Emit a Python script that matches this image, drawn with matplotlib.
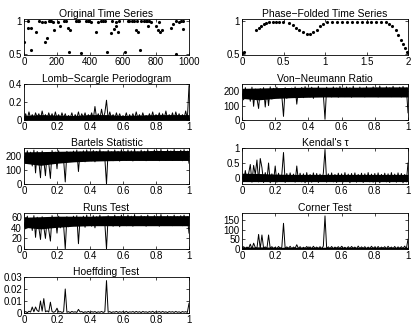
import numpy as np
import matplotlib
matplotlib.use('Agg')
import matplotlib.pyplot as plt
from matplotlib.ticker import FormatStrFormatter

plt.rcParams['font.family'] = ['Liberation Sans', 'DejaVu Sans']
plt.rcParams['font.size'] = 7

# seria originala (timp, magnitudine normalizata)
timp = [0, 26, 26, 45, 45, 71, 92, 112, 125, 128, 138, 152, 160, 166, 173,
        183, 209, 220, 244, 254, 264, 274, 280, 315, 325, 335, 345, 374, 386,
        396, 406, 437, 447, 467, 479, 490, 502, 528, 535, 543, 555, 559, 569,
        575, 610, 629, 639, 655, 668, 677, 682, 691, 705, 710, 726, 738, 747,
        752, 760, 770, 803, 813, 821, 827, 837, 888, 904, 919, 921, 941, 954,
        961, 966]
valori = [0.69, 1.0, 0.89, 0.89, 0.57, 0.84, 1.0, 0.99, 0.99, 0.68, 0.75,
          1.0, 1.0, 1.0, 0.99, 0.86, 0.99, 0.93, 1.0, 1.0, 0.90, 0.53, 0.86,
          1.0, 1.0, 1.0, 0.52, 1.0, 1.0, 1.0, 0.99, 0.83, 0.99, 1.0, 1.0, 1.0,
          0.54, 0.82, 1.0, 0.88, 0.92, 0.99, 0.83, 1.0, 0.54, 1.0, 1.0, 1.0,
          1.0, 0.86, 1.0, 0.83, 0.56, 1.0, 1.0, 1.0, 1.0, 0.92, 1.0, 0.99,
          0.93, 0.86, 0.99, 0.83, 0.86, 0.90, 0.96, 0.51, 1.0, 0.99, 1.0,
          0.88, 1.0]

# seria impaturita pe faza
faza = [0.0, 0.02, 0.17, 0.20, 0.23, 0.26, 0.29, 0.33, 0.37, 0.41, 0.45,
        0.49, 0.57, 0.61, 0.65, 0.69, 0.74, 0.78, 0.82, 0.86, 0.90, 0.94,
        0.98, 1.02, 1.08, 1.14, 1.20, 1.26, 1.32, 1.38, 1.44, 1.50, 1.56,
        1.62, 1.68, 1.73, 1.77, 1.81, 1.85, 1.88, 1.91, 1.94, 1.96, 1.99]
valori_faza = [0.52, 0.54, 0.87, 0.90, 0.93, 0.96, 0.97, 0.98, 0.98, 0.99,
               0.98, 0.99, 0.97, 0.94, 0.90, 0.86, 0.83, 0.80, 0.81, 0.84,
               0.87, 0.92, 0.96, 0.99, 0.99, 0.99, 0.98, 0.99, 0.99, 0.99,
               0.99, 0.99, 0.98, 0.99, 0.98, 0.98, 0.96, 0.92, 0.86, 0.79,
               0.72, 0.65, 0.60, 0.54]

# frecvente (pas 0.01)
frecvente = np.linspace(0, 1, 101)
# frecvente pentru banda densa (pas 0.1)
frecvente_banda = np.linspace(0, 1, 11)

lomb = [0.00, 0.07, 0.01, 0.09, 0.02, 0.06, 0.01, 0.08, 0.03, 0.07,
        0.01, 0.10, 0.02, 0.06, 0.01, 0.08, 0.02, 0.07, 0.01, 0.09,
        0.02, 0.06, 0.01, 0.08, 0.02, 0.07, 0.01, 0.05, 0.02, 0.08,
        0.01, 0.06, 0.02, 0.09, 0.01, 0.07, 0.02, 0.08, 0.01, 0.06,
        0.02, 0.08, 0.01, 0.15, 0.02, 0.07, 0.01, 0.12, 0.02, 0.08,
        0.22, 0.01, 0.09, 0.02, 0.06, 0.01, 0.08, 0.02, 0.07, 0.01,
        0.05, 0.02, 0.08, 0.01, 0.06, 0.02, 0.07, 0.01, 0.09, 0.02,
        0.06, 0.01, 0.08, 0.02, 0.05, 0.01, 0.07, 0.02, 0.09, 0.01,
        0.06, 0.02, 0.08, 0.01, 0.07, 0.02, 0.10, 0.01, 0.06, 0.02,
        0.08, 0.01, 0.09, 0.02, 0.07, 0.01, 0.06, 0.02, 0.10, 0.01,
        0.38]
lomb_jos = [0, 0, 0, 0, 0, 0, 0, 0, 0, 0, 0]
lomb_sus = [0.05, 0.06, 0.055, 0.05, 0.06, 0.06, 0.05, 0.055, 0.06, 0.06, 0.06]

von_neumann = [190, 140, 225, 160, 210, 130, 228, 95, 215, 150,
               80, 218, 150, 225, 90, 212, 100, 230, 145, 220,
               170, 228, 155, 210, 165, 25, 225, 150, 215, 175,
               222, 160, 230, 110, 215, 170, 226, 155, 232, 172,
               214, 160, 228, 150, 220, 172, 234, 165, 218, 178,
               5, 228, 170, 216, 160, 230, 175, 222, 158, 233,
               176, 218, 162, 230, 170, 224, 158, 235, 174, 216,
               165, 229, 172, 221, 160, 232, 178, 218, 166, 230,
               174, 222, 160, 236, 170, 219, 165, 231, 176, 223,
               162, 234, 172, 220, 168, 228, 160, 233, 175, 222,
               50]
vn_jos = [150, 140, 150, 155, 158, 160, 160, 160, 160, 160, 160]
vn_sus = [220, 222, 225, 226, 228, 228, 228, 228, 230, 230, 230]

bartels = [200, 150, 240, 170, 230, 130, 245, 80, 235, 160,
           45, 238, 170, 60, 225, 150, 40, 242, 165, 230,
           110, 240, 160, 228, 175, 15, 236, 165, 230, 180,
           238, 170, 245, 90, 232, 175, 240, 160, 246, 180,
           230, 168, 242, 160, 236, 182, 248, 172, 232, 185,
           0, 244, 178, 232, 168, 246, 182, 236, 165, 248,
           184, 234, 170, 246, 178, 240, 166, 250, 182, 232,
           172, 245, 180, 237, 168, 248, 186, 234, 174, 246,
           182, 238, 168, 250, 178, 235, 172, 247, 184, 239,
           170, 249, 180, 236, 176, 244, 168, 248, 184, 238,
           150]
bartels_jos = [150, 135, 150, 160, 165, 168, 170, 170, 170, 170, 170]
bartels_sus = [232, 234, 236, 238, 240, 240, 240, 240, 242, 242, 242]

kendal = [0.05, -0.12, 0.25, -0.10, 0.15, 0.45, -0.14, 0.42, 0.12, 0.60,
          -0.13, 0.65, 0.35, -0.15, 0.18, -0.10, 0.50, -0.16, 0.14, -0.12,
          0.40, -0.14, 0.16, -0.11, 0.12, 0.85, -0.15, 0.15, -0.12, 0.17,
          -0.10, 0.13, -0.14, 0.40, -0.12, 0.16, -0.13, 0.14, -0.16, 0.18,
          -0.11, 0.12, -0.14, 0.17, -0.12, 0.15, -0.15, 0.13, -0.11, 0.16,
          0.95, -0.14, 0.14, -0.12, 0.17, -0.13, 0.12, -0.15, 0.16, -0.11,
          0.14, -0.13, 0.18, -0.12, 0.13, -0.16, 0.15, -0.11, 0.17, -0.14,
          0.12, -0.12, 0.16, -0.15, 0.14, -0.11, 0.18, -0.13, 0.13, -0.14,
          0.15, -0.12, 0.17, -0.16, 0.12, -0.11, 0.16, -0.13, 0.14, -0.15,
          0.18, -0.12, 0.13, -0.14, 0.17, -0.11, 0.15, -0.16, 0.12, -0.13,
          0.50]
kendal_jos = [-0.12, -0.12, -0.12, -0.12, -0.12, -0.12, -0.12, -0.12, -0.12, -0.12, -0.12]
kendal_sus = [0.16, 0.15, 0.13, 0.12, 0.12, 0.12, 0.12, 0.12, 0.12, 0.12, 0.12]

runs = [50, 38, 62, 44, 58, 35, 63, 22, 60, 40,
        18, 61, 42, 20, 57, 36, 15, 63, 43, 59,
        30, 62, 40, 58, 45, 0, 61, 42, 59, 46,
        62, 44, 63, 10, 60, 45, 62, 41, 64, 47,
        59, 43, 63, 40, 61, 47, 64, 45, 60, 48,
        0, 63, 46, 59, 43, 64, 47, 61, 42, 64,
        48, 60, 44, 64, 46, 62, 43, 65, 47, 60,
        45, 63, 47, 61, 43, 64, 48, 60, 45, 63,
        47, 61, 43, 65, 46, 60, 45, 63, 48, 61,
        44, 64, 47, 61, 46, 63, 44, 64, 48, 61,
        30]
runs_jos = [41, 38, 41, 43, 44, 44, 44, 44, 44, 44, 44]
runs_sus = [60, 61, 62, 62, 62, 63, 63, 63, 63, 63, 63]

corner = [3, 12, 2, 10, 4, 25, 1, 30, 8, 3,
          75, 2, 72, 5, 11, 1, 72, 3, 12, 2,
          9, 1, 13, 4, 10, 132, 2, 11, 3, 14,
          1, 10, 4, 22, 2, 12, 1, 9, 3, 13,
          2, 11, 1, 14, 3, 10, 2, 12, 1, 15,
          170, 3, 11, 2, 13, 1, 10, 4, 12, 2,
          14, 3, 9, 1, 12, 2, 13, 4, 10, 1,
          15, 2, 11, 3, 12, 1, 10, 2, 14, 3,
          11, 1, 13, 2, 10, 4, 12, 1, 14, 3,
          10, 2, 13, 1, 11, 3, 12, 2, 15, 1,
          50]
corner_jos = [0, 0, 0, 0, 0, 0, 0, 0, 0, 0, 0]
corner_sus = [10, 11, 9, 9, 9, 9, 9, 9, 9, 9, 9]

hoeffding = [0.0005, 0.0012, 0.0003, 0.0015, 0.0008, 0.005, 0.0010, 0.005, 0.0020, 0.0012,
             0.010, 0.0015, 0.012, 0.0010, 0.0018, 0.0008, 0.009, 0.0012, 0.0006, 0.0014,
             0.004, 0.0008, 0.0012, 0.0005, 0.0010, 0.020, 0.0006, 0.0011, 0.0004, 0.0013,
             0.0007, 0.0010, 0.0005, 0.003, 0.0009, 0.0012, 0.0004, 0.0010, 0.0006, 0.0013,
             0.0005, 0.0011, 0.0007, 0.0012, 0.0004, 0.0010, 0.0006, 0.0013, 0.0005, 0.0011,
             0.027, 0.0006, 0.0012, 0.0004, 0.0010, 0.0007, 0.0013, 0.0005, 0.0011, 0.0006,
             0.0012, 0.0005, 0.0014, 0.0004, 0.0010, 0.0007, 0.0012, 0.0005, 0.0013, 0.0006,
             0.0011, 0.0004, 0.0013, 0.0007, 0.0010, 0.0005, 0.0012, 0.0006, 0.0014, 0.0004,
             0.0011, 0.0007, 0.0012, 0.0005, 0.0013, 0.0006, 0.0010, 0.0004, 0.0012, 0.0007,
             0.0011, 0.0005, 0.0013, 0.0006, 0.0010, 0.0004, 0.0012, 0.0007, 0.0011, 0.0005,
             0.008]

W, H = 415, 324
fig = plt.figure(figsize=(W / 100, H / 100), dpi=100)


def axa(col, rand):
    # pozitii in pixeli, ca in figura MATLAB
    x0 = [24, 242][col]
    w = [165, 166][col]
    top = [19, 84, 148, 213, 277][rand]
    h = 36
    ax = fig.add_axes([x0 / W, 1 - (top + h) / H, w / W, h / H])
    ax.tick_params(direction='in', top=True, right=True, length=2, width=0.5, pad=1.5)
    for s in ax.spines.values():
        s.set_linewidth(0.6)
        s.set_zorder(5)
    return ax


def frecventa(ax, y, titlu, ylim, yticks, jos=None, sus=None, lw=0.7):
    if jos is not None:
        ax.fill_between(frecvente_banda, jos, sus, color='k', linewidth=0)
    ax.plot(frecvente, y, color='k', linewidth=lw)
    ax.set_xlim(0, 1)
    ax.set_ylim(*ylim)
    ax.set_xticks([0, 0.2, 0.4, 0.6, 0.8, 1])
    ax.set_yticks(yticks)
    ax.xaxis.set_major_formatter(FormatStrFormatter('%g'))
    ax.yaxis.set_major_formatter(FormatStrFormatter('%g'))
    ax.set_title(titlu, pad=1.5, fontsize=7.5)


# serie originala
ax = axa(0, 0)
ax.plot(timp, valori, '.', color='k', markersize=2.5)
ax.set_xlim(0, 1000)
ax.set_ylim(0.49, 1.03)
ax.set_xticks([0, 200, 400, 600, 800, 1000])
ax.set_yticks([0.5, 1])
ax.yaxis.set_major_formatter(FormatStrFormatter('%g'))
ax.set_title('Original Time Series', pad=1.5, fontsize=7.5)

# serie impaturita
ax = axa(1, 0)
ax.plot(faza, valori_faza, '.', color='k', markersize=2.5)
ax.set_xlim(0, 2)
ax.set_ylim(0.49, 1.03)
ax.set_xticks([0, 0.5, 1, 1.5, 2])
ax.set_yticks([0.5, 1])
ax.xaxis.set_major_formatter(FormatStrFormatter('%g'))
ax.yaxis.set_major_formatter(FormatStrFormatter('%g'))
ax.set_title('Phase\u2212Folded Time Series', pad=1.5, fontsize=7.5)

frecventa(axa(0, 1), lomb, 'Lomb\u2212Scargle Periodogram', (0, 0.4), [0, 0.2, 0.4],
          lomb_jos, lomb_sus)
frecventa(axa(1, 1), von_neumann, 'Von\u2212Neumann Ratio', (0, 250), [0, 100, 200],
          vn_jos, vn_sus)
frecventa(axa(0, 2), bartels, 'Bartels Statistic', (0, 260), [0, 100, 200],
          bartels_jos, bartels_sus)
frecventa(axa(1, 2), kendal, "Kendal's \u03c4", (-0.2, 1), [0, 0.5, 1],
          kendal_jos, kendal_sus)
frecventa(axa(0, 3), runs, 'Runs Test', (0, 68), [0, 20, 40, 60],
          runs_jos, runs_sus)
frecventa(axa(1, 3), corner, 'Corner Test', (0, 185), [0, 50, 100, 150],
          corner_jos, corner_sus)
frecventa(axa(0, 4), hoeffding, 'Hoeffding Test', (0, 0.03), [0, 0.01, 0.02, 0.03])

fig.savefig('out.png', dpi=100)
